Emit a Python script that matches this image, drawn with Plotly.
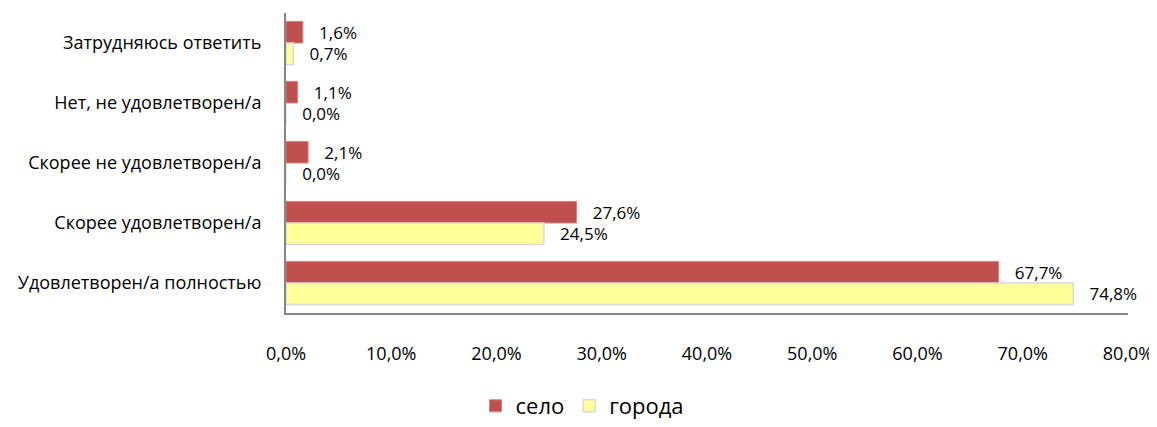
import plotly.graph_objects as go

CATEGORIES = ["Затрудняюсь ответить", "Нет, не удовлетворен/а", "Скорее не удовлетворен/а",
              "Скорее удовлетворен/а", "Удовлетворен/а полностью"]
SELO = [1.6, 1.1, 2.1, 27.6, 67.7]
GORODA = [0.7, 0.0, 0.0, 24.5, 74.8]
TICKS = [0, 10, 20, 30, 40, 50, 60, 70, 80]

FONT = "Open Sans"
PAD = "\u00a0\u00a0\u00a0"


def fmt(v):
    return f"{v:.1f}%".replace(".", ",")


fig = go.Figure()

fig.add_bar(
    y=CATEGORIES, x=SELO, orientation="h", name="село",
    marker=dict(color="#C0504D", line=dict(color="#D6837F", width=1)),
    text=[PAD + fmt(v) for v in SELO], textposition="outside",
    textfont=dict(size=17, color="#000000"),
    cliponaxis=False, constraintext="none"
)

fig.add_bar(
    y=CATEGORIES, x=GORODA, orientation="h", name="города",
    marker=dict(color="#FFFF99", line=dict(color="#D9D9D9", width=1.5)),
    text=[PAD + fmt(v) for v in GORODA], textposition="outside",
    textfont=dict(size=17, color="#000000"),
    cliponaxis=False, constraintext="none"
)

# the page body has an 8px margin, so the figure is a bit smaller than the window
fig.update_layout(
    width=1149, height=419,
    margin=dict(l=278, r=29, t=5, b=114, autoexpand=False),
    paper_bgcolor="white", plot_bgcolor="white",
    font=dict(family=FONT, size=17, color="#000000"),
    barmode="group", bargap=0.28, bargroupgap=0,
    separators=", ",
    showlegend=True,
    legend=dict(orientation="h", x=0.5, xanchor="center", xref="container",
                y=0.0, yanchor="bottom", yref="container",
                font=dict(size=22), itemwidth=30),
    xaxis=dict(
        range=[0, 80], tickvals=TICKS, ticktext=[fmt(t) for t in TICKS],
        showgrid=False, zeroline=False, automargin=False,
        showline=True, linecolor="#868686", linewidth=2,
        ticks="", ticklabelstandoff=23, tickfont=dict(size=18)
    ),
    yaxis=dict(
        autorange="reversed", automargin=False,
        showgrid=False, zeroline=False,
        showline=True, linecolor="#868686", linewidth=2,
        ticks="", ticklabelstandoff=19, tickfont=dict(size=18)
    )
)

fig.write_html("out.html")
